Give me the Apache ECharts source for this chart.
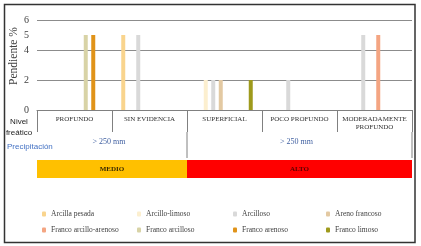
<!DOCTYPE html>
<html><head><meta charset="utf-8">
<script src="https://cdn.jsdelivr.net/npm/echarts@6/dist/echarts.min.js"></script>
<style>html,body{margin:0;padding:0;background:#fff}#c{width:421px;height:246px}</style>
</head><body><div id="c"></div>
<script>
const categories = ['PROFUNDO', 'SIN EVIDENCIA', 'SUPERFICIAL', 'POCO PROFUNDO', 'MODERADAMENTE\nPROFUNDO'];
const seriesNames = ['Arcilla pesada', 'Arcillo-limoso', 'Arcilloso', 'Areno francoso', 'Franco arcillo-arenoso', 'Franco arcilloso', 'Franco arenoso', 'Franco limoso'];
const arcillaPesada = [null, 5, null, null, null];
const arcilloLimoso = [null, null, 2, null, null];
const arcilloso = [null, 5, 2, 2, 5];
const arenoFrancoso = [null, null, 2, null, null];
const francoArcilloArenoso = [null, null, null, null, 5];
const francoArcilloso = [5, null, null, null, null];
const francoArenoso = [5, null, null, null, null];
const francoLimoso = [null, null, 2, null, null];
const seriesValues = [arcillaPesada, arcilloLimoso, arcilloso, arenoFrancoso, francoArcilloArenoso, francoArcilloso, francoArenoso, francoLimoso];
const seriesColors = ['#F9D48D', '#FCEFCF', '#D9D9D9', '#E3C9A2', '#F4A582', '#D8D3A6', '#E09319', '#9E9A1C'];
const yTickLabels = ['0', '', '2', '', '4', '5', '6'];
const groupSpans = [[0, 2], [2, 5]];
const precipLabels = ['> 250 mm', '> 250 mm'];
const levelLabels = ['MEDIO', 'ALTO'];
const levelColors = ['#FFC000', '#FF0000'];
const levelTextColors = ['#3b2a00', '#5a0000'];

const SERIF = 'Liberation Serif';
const SANS = 'Liberation Sans';

const bars = seriesNames.map((n, i) => ({
  name: n, type: 'bar', xAxisIndex: 0, yAxisIndex: 0,
  data: seriesValues[i], barWidth: 4, barGap: '87.5%',
  itemStyle: { color: seriesColors[i] }
}));

const table = {
  type: 'custom', xAxisIndex: 1, yAxisIndex: 2, silent: true,
  data: groupSpans,
  renderItem: function (params, api) {
    const i = params.dataIndex;
    const x0 = api.coord([api.value(0), 0])[0];
    const x1 = api.coord([api.value(1), 0])[0];
    const y = v => api.coord([0, v])[1];
    const cx = (x0 + x1) / 2;
    return { type: 'group', children: [
      { type: 'rect', shape: { x: x0, y: y(18), width: x1 - x0, height: y(0) - y(18) }, style: { fill: levelColors[i] } },
      { type: 'text', x: cx, y: y(9), style: { text: levelLabels[i], fill: levelTextColors[i], font: 'bold 7px ' + SERIF, align: 'center', verticalAlign: 'middle' } },
      { type: 'text', x: cx - 3, y: y(36), style: { text: precipLabels[i], fill: '#3F5FA0', font: '8px ' + SERIF, align: 'center', verticalAlign: 'middle' } },
      { type: 'line', shape: { x1: x1, y1: y(46), x2: x1, y2: y(20) }, style: { stroke: '#808080', lineWidth: 1 } }
    ]};
  }
};

const legendCols = [[0, 4], [1, 5], [2, 6], [3, 7]];
const legendLefts = [42, 137, 233, 326];
const legends = legendCols.map((c, k) => ({
  orient: 'vertical', left: legendLefts[k], top: 210, padding: 0, itemWidth: 4, itemHeight: 5, itemGap: 8,
  data: c.map(i => seriesNames[i]), selectedMode: false,
  textStyle: { fontFamily: SERIF, fontSize: 7.5, color: '#404040' }
}));

const chart = echarts.init(document.getElementById('c'), null, { renderer: 'canvas' });
chart.setOption({
  animation: false,
  backgroundColor: '#fff',
  grid: [
    { left: 37, right: 9, top: 20, height: 90, containLabel: false, outerBoundsMode: 'none' },
    { left: 37, right: 9, top: 132, height: 46, containLabel: false, outerBoundsMode: 'none' }
  ],
  xAxis: [
    { type: 'category', gridIndex: 0, data: categories, boundaryGap: true,
      axisLine: { show: true, lineStyle: { color: '#808080' } },
      axisTick: { show: true, interval: 0, alignWithLabel: false, length: 22, lineStyle: { color: '#808080' } },
      axisLabel: { interval: 0, fontFamily: SERIF, fontSize: 7, color: '#333', margin: 5, lineHeight: 8 } },
    { type: 'value', gridIndex: 1, min: 0, max: 5, show: false }
  ],
  yAxis: [
    { type: 'value', gridIndex: 0, min: 0, max: 6, interval: 1,
      axisLine: { show: false }, axisTick: { show: false }, splitLine: { show: false },
      axisLabel: { formatter: v => yTickLabels[v], fontFamily: SERIF, fontSize: 10, color: '#404040', margin: 8 },
      name: 'Pendiente %', nameLocation: 'middle', nameGap: 17, nameMoveOverlap: false,
      nameTextStyle: { fontFamily: SERIF, fontSize: 11.5, color: '#404040', padding: [0, 0, 0, 18] } },
    { type: 'value', gridIndex: 0, min: 0, max: 6, interval: 2,
      axisLine: { show: false }, axisTick: { show: false }, axisLabel: { show: false },
      splitLine: { show: true, lineStyle: { color: '#8c8c8c', width: 1 } } },
    { type: 'value', gridIndex: 1, min: 0, max: 46, show: false }
  ],
  legend: legends,
  series: bars.concat([table]),
  graphic: [
    { type: 'rect', shape: { x: 4.5, y: 4.5, width: 410.5, height: 238 }, style: { fill: 'none', stroke: '#333', lineWidth: 1.5 }, z: 100 },
    { type: 'text', x: 19, y: 127, style: { text: 'Nivel\nfreático', font: '8px ' + SANS, fill: '#222', align: 'center', verticalAlign: 'middle', lineHeight: 11 } },
    { type: 'text', x: 7, y: 147, style: { text: 'Precipitación', font: '8px ' + SANS, fill: '#4472C4', align: 'left', verticalAlign: 'middle' } }
  ]
});
</script>
</body></html>
